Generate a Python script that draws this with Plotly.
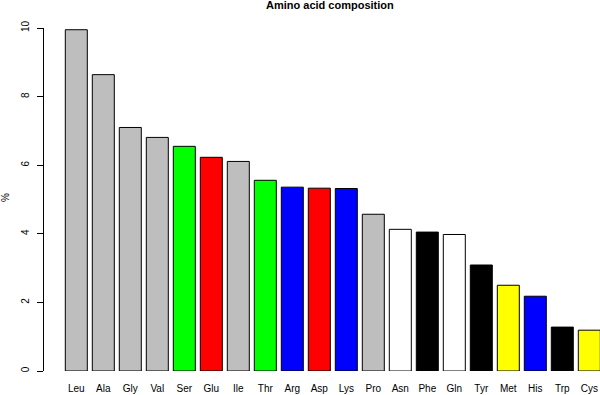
import plotly.graph_objects as go

amino_acids = ["Leu", "Ala", "Gly", "Val", "Ser", "Glu", "Ile", "Thr", "Arg", "Asp",
               "Lys", "Pro", "Asn", "Phe", "Gln", "Tyr", "Met", "His", "Trp", "Cys"]
percent = [9.95, 8.64, 7.10, 6.81, 6.55, 6.23, 6.11, 5.56, 5.36, 5.33,
           5.32, 4.57, 4.13, 4.05, 3.98, 3.09, 2.50, 2.18, 1.28, 1.19]
bar_colors = ["#BEBEBE", "#BEBEBE", "#BEBEBE", "#BEBEBE", "#00FF00", "#FF0000", "#BEBEBE",
              "#00FF00", "#0000FF", "#FF0000", "#0000FF", "#BEBEBE", "#FFFFFF", "#000000",
              "#FFFFFF", "#000000", "#FFFF00", "#0000FF", "#000000", "#FFFF00"]
y_ticks = [0, 2, 4, 6, 8, 10]

font_family = "Liberation Sans, Arial, sans-serif"

fig = go.Figure(go.Bar(
    x=amino_acids, y=percent, width=0.815,
    marker=dict(color=bar_colors, line=dict(color="black", width=1)),
))

L, R, T, B = 44, 0, 28, 24
W, H = 600, 395
pw = W - L - R
ph = H - T - B

fig.update_layout(
    width=W, height=H,
    margin=dict(l=L, r=R, t=T, b=B, pad=0),
    plot_bgcolor="white", paper_bgcolor="white",
    showlegend=False,
    font=dict(family=font_family, size=10, color="black"),
    xaxis=dict(
        type="category", range=[(L - 76.3) / 27, (W - 76.3) / 27],
        showline=False, showgrid=False, zeroline=False, ticks="",
        tickfont=dict(size=10), ticklabelstandoff=10,
    ),
    yaxis=dict(
        range=[0, 10], tickvals=y_ticks, ticktext=[str(v) for v in y_ticks],
        showline=True, linecolor="black", linewidth=1,
        ticks="outside", ticklen=6, tickwidth=1, tickcolor="black",
        showgrid=False, zeroline=False, tickangle=-90,
        tickfont=dict(size=10), ticklabelstandoff=4,
    ),
    annotations=[
        dict(text="<b>Amino acid composition</b>", xref="paper", yref="paper",
             x=(330 - L) / pw, y=1 + (T - 5) / ph, xanchor="center", yanchor="middle",
             showarrow=False, font=dict(size=11)),
        dict(text="%", xref="paper", yref="paper",
             x=(5 - L) / pw, y=(371 - 198) / ph, xanchor="center", yanchor="middle",
             showarrow=False, textangle=-90, font=dict(size=10)),
    ],
)

fig.write_html("out.html", config={"displayModeBar": False})

with open("out.html", "r", encoding="utf-8") as f:
    html = f.read()
html = html.replace("<head>", "<head><style>html,body{margin:0;padding:0;overflow:hidden;}</style>", 1)
with open("out.html", "w", encoding="utf-8") as f:
    f.write(html)
